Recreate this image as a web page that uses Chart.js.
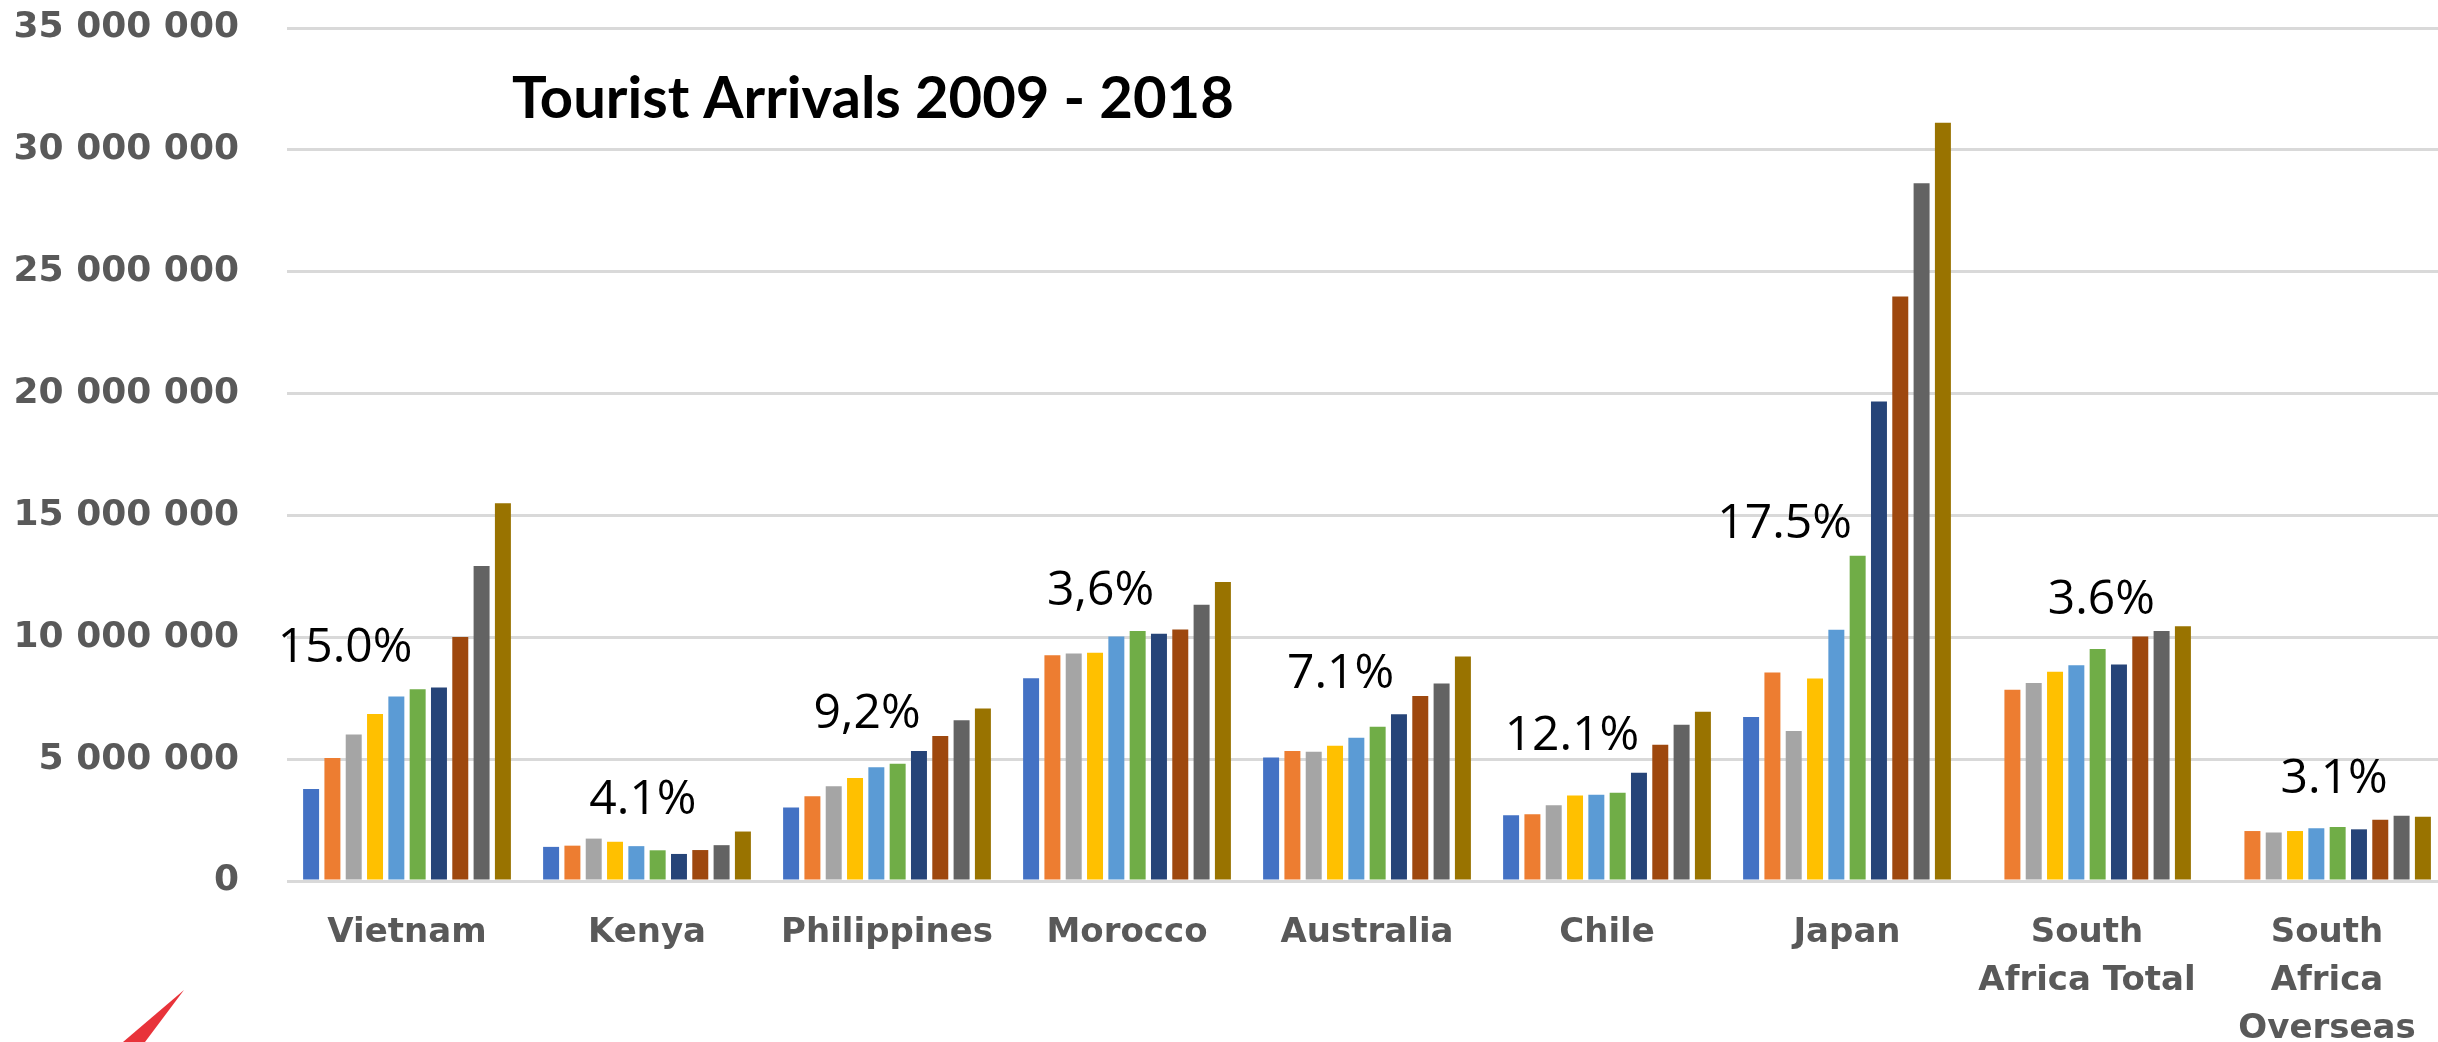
<!DOCTYPE html>
<html>
<head>
<meta charset="utf-8">
<script src="https://cdn.jsdelivr.net/npm/chart.js@4.4.1/dist/chart.umd.min.js"></script>
<style>
    html, body { margin: 0; padding: 0; background: #fff; overflow: hidden; }
    #wrap { position: absolute; left: 0; top: 0; width: 2447px; height: 1042px; }
</style>
</head>
<body>
<div id="wrap"><canvas id="arrivalsChart"></canvas></div>
<script>
const countries = [
    'Vietnam', 'Kenya', 'Philippines', 'Morocco', 'Australia', 'Chile', 'Japan',
    ['South', 'Africa Total'], ['South', 'Africa', 'Overseas']
];
const years = ['2009', '2010', '2011', '2012', '2013', '2014', '2015', '2016', '2017', '2018'];

// arrivals per year, one value per country (millions)
const arrivals2009 = [3.77, 1.40, 3.02, 8.32, 5.07, 2.70, 6.73, null, null];
const arrivals2010 = [5.05, 1.45, 3.48, 9.26, 5.33, 2.74, 8.55, 7.85, 2.05];
const arrivals2011 = [6.01, 1.74, 3.89, 9.33, 5.30, 3.11, 6.15, 8.12, 1.99];
const arrivals2012 = [6.85, 1.61, 4.23, 9.37, 5.55, 3.51, 8.31, 8.59, 2.05];
const arrivals2013 = [7.57, 1.43, 4.67, 10.03, 5.88, 3.54, 10.31, 8.85, 2.16];
const arrivals2014 = [7.87, 1.26, 4.81, 10.26, 6.33, 3.62, 13.35, 9.52, 2.22];
const arrivals2015 = [7.94, 1.11, 5.33, 10.15, 6.84, 4.44, 19.67, 8.88, 2.12];
const arrivals2016 = [10.01, 1.27, 5.95, 10.32, 7.59, 5.59, 23.98, 10.03, 2.51];
const arrivals2017 = [12.92, 1.47, 6.60, 11.33, 8.10, 6.41, 28.63, 10.26, 2.68];
const arrivals2018 = [15.50, 2.03, 7.08, 12.27, 9.21, 6.94, 31.11, 10.45, 2.64];

const growthLabels = ['15.0%', '4.1%', '9,2%', '3,6%', '7.1%', '12.1%', '17.5%', '3.6%', '3.1%'];
// where each growth label sits: [offset in category widths, value in millions]
const growthAnchors = [
    [-0.258, 9.70], [-0.017, 3.45], [-0.083, 6.98], [-0.11, 12.04], [-0.11, 8.63],
    [-0.146, 6.08], [-0.26, 14.79], [0.06, 11.67], [0.03, 4.31]
];

const yTicks = [0, 5, 10, 15, 20, 25, 30, 35];

const series = [arrivals2009, arrivals2010, arrivals2011, arrivals2012, arrivals2013,
    arrivals2014, arrivals2015, arrivals2016, arrivals2017, arrivals2018];
const colors = ['#4472C4', '#ED7D31', '#A5A5A5', '#FFC000', '#5B9BD5',
    '#70AD47', '#264478', '#9E480E', '#636363', '#997300'];

const formatTick = (v) => String(Math.round(v * 1000000)).replace(/\B(?=(\d{3})+(?!\d))/g, ' ');

const overlayPlugin = {
    id: 'overlay',
    afterDatasetsDraw(chart) {
        const { ctx, scales: { x, y } } = chart;
        ctx.save();

        ctx.fillStyle = '#000';
        ctx.font = 'bold 58px Lato';
        ctx.textAlign = 'left';
        ctx.textBaseline = 'alphabetic';
        ctx.fillText('Tourist Arrivals 2009 - 2018', 512, 118);

        ctx.font = '48px "Open Sans"';
        ctx.textAlign = 'center';
        growthLabels.forEach((txt, i) => {
            const [dx, val] = growthAnchors[i];
            ctx.fillText(txt, x.getPixelForValue(i + dx), y.getPixelForValue(val) + 17);
        });

        // red logo fragment at the bottom-left corner
        ctx.fillStyle = '#E8333A';
        ctx.beginPath();
        ctx.moveTo(184, 990);
        ctx.lineTo(123, 1042);
        ctx.lineTo(145, 1042);
        ctx.closePath();
        ctx.fill();

        ctx.restore();
    }
};

new Chart(document.getElementById('arrivalsChart').getContext('2d'), {
    type: 'bar',
    data: {
        labels: countries,
        datasets: series.map((data, idx) => ({
            label: years[idx],
            data,
            backgroundColor: colors[idx],
            borderWidth: 0,
            categoryPercentage: 0.888,
            barPercentage: 0.75
        }))
    },
    options: {
        responsive: true,
        maintainAspectRatio: false,
        animation: false,
        layout: { padding: { top: 28, left: 0, right: 0, bottom: 0 } },
        plugins: {
            legend: { display: false },
            title: { display: false },
            tooltip: { enabled: false }
        },
        scales: {
            x: {
                grid: { display: false, drawTicks: false },
                border: { display: false },
                afterFit: (axis) => { axis.height = 161; axis.paddingTop = 0; axis.paddingBottom = 0; },
                ticks: {
                    autoSkip: false,
                    maxRotation: 0,
                    padding: 28,
                    color: '#595959',
                    font: { family: '"DejaVu Sans"', size: 34, weight: 'bold', lineHeight: 1.41 }
                }
            },
            y: {
                min: 0,
                max: 35,
                afterFit: (axis) => { axis.width = 287; axis.paddingTop = 0; axis.paddingBottom = 0; },
                afterBuildTicks: (axis) => { axis.ticks = yTicks.map(v => ({ value: v })); },
                grid: { color: '#d9d9d9', lineWidth: 3, drawTicks: false },
                border: { display: false },
                ticks: {
                    padding: 48,
                    color: '#595959',
                    font: { family: '"DejaVu Sans"', size: 36, weight: 'bold' },
                    callback: (v) => formatTick(v)
                }
            }
        }
    },
    plugins: [overlayPlugin]
});
</script>
</body>
</html>
